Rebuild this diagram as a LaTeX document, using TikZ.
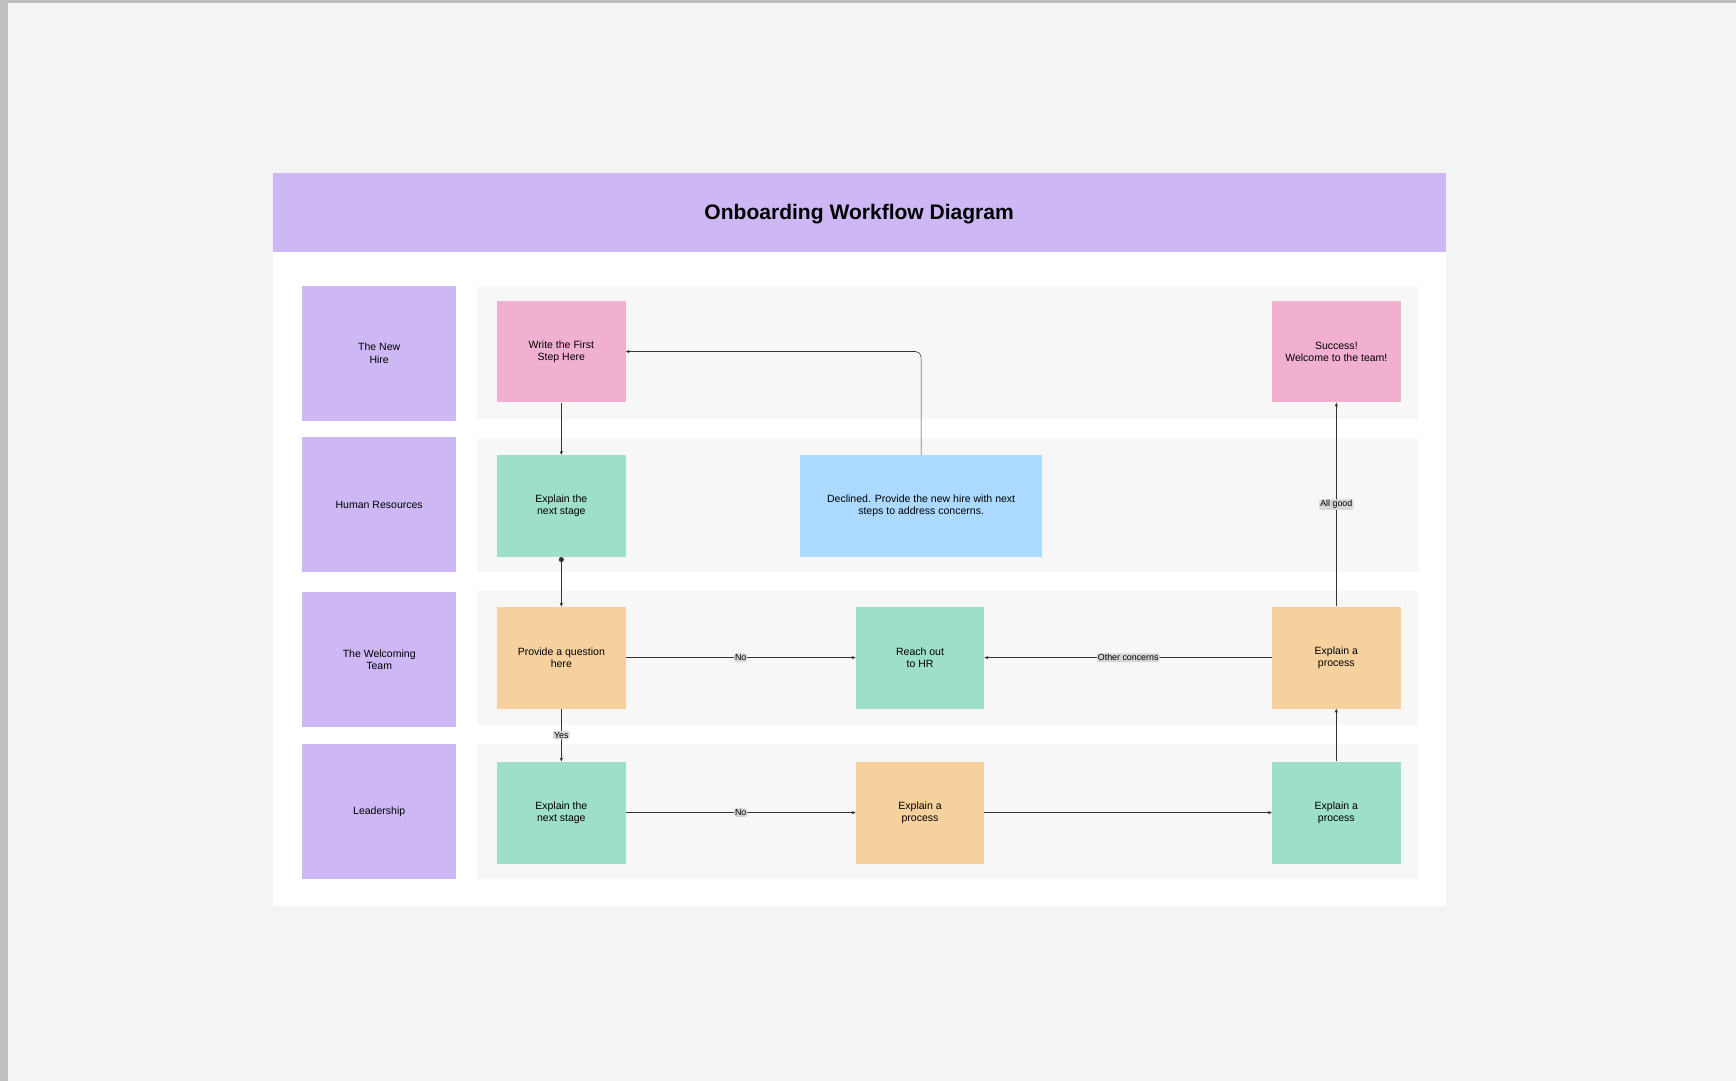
\documentclass[tikz,border=0pt]{standalone}
\usepackage{fontspec}
\setmainfont{Liberation Sans}
\usetikzlibrary{arrows.meta,positioning}
\definecolor{bgpage}{HTML}{F4F4F4}
\definecolor{lanebg}{HTML}{F7F7F7}
\definecolor{lilac}{HTML}{CDB8F5}
\definecolor{pinkbox}{HTML}{F2B0D0}
\definecolor{greenbox}{HTML}{9DDFC8}
\definecolor{bluebox}{HTML}{ABD9FF}
\definecolor{orangebox}{HTML}{F6D19E}
\definecolor{tagbg}{HTML}{D6D6D6}

\begin{document}
\begin{tikzpicture}[x=1pt, y=-1pt,
  card/.style={minimum width=116pt, minimum height=92pt, inner sep=2pt,
    align=center, font=\fontsize{9.5}{11}\selectfont},
  pinkcard/.style={card, fill=pinkbox},
  greencard/.style={card, fill=greenbox},
  orangecard/.style={card, fill=orangebox},
  lanelabel/.style={fill=lilac, minimum width=139pt, minimum height=122pt,
    align=center, font=\fontsize{9.5}{11}\selectfont},
  lane/.style={fill=lanebg},
  arr/.style={-{Stealth[length=3.5pt, width=3pt]}, line width=0.5pt, draw=black!80},
  tag/.style={fill=tagbg, rounded corners=2pt, inner sep=1pt,
    font=\fontsize{8}{9}\selectfont}
]
  % page and card
  \useasboundingbox (0,0) rectangle (1568,976);
  \fill[black!25] (0,0) rectangle (1568,976);
  \fill[bgpage] (7,3) rectangle (1568,976);
  \fill[white] (247,156) rectangle (1306,818);
  \fill[lilac] (247,156) rectangle (1306,228);
  \node[font=\bfseries\fontsize{19}{22}\selectfont] (title) at (776,193) {Onboarding Workflow Diagram};

  % lanes
  \fill[lane] (431,258) rectangle (1281,378);
  \fill[lane] (431,396) rectangle (1281,517);
  \fill[lane] (431,534) rectangle (1281,655);
  \fill[lane] (431,672) rectangle (1281,794);
  \node[lanelabel] (hire) at (342.5,319) {The New\\Hire};
  \node[lanelabel] (hr) at (342.5,456) {Human Resources};
  \node[lanelabel] (team) at (342.5,596) {The Welcoming\\Team};
  \node[lanelabel] (lead) at (342.5,733) {Leadership};

  % steps
  \node[pinkcard] (first) at (507,317.5) {Write the First\\Step Here};
  \node[pinkcard] (success) at (1207,317.5) {Success!\\Welcome to the team!};
  \node[greencard] (nextHR) at (507,457) {Explain the\\next stage};
  \node[card, fill=bluebox, minimum width=218pt] (declined) at (832,457)
    {Declined. Provide the new hire with next\\steps to address concerns.};
  \node[orangecard] (question) at (507,594) {Provide a question\\here};
  \node[greencard] (reach) at (831,594) {Reach out\\to HR};
  \node[orangecard] (procTeam) at (1207,594) {Explain a\\process};
  \node[greencard] (nextLead) at (507,734) {Explain the\\next stage};
  \node[orangecard] (procLead) at (831,734) {Explain a\\process};
  \node[greencard] (procEnd) at (1207,734) {Explain a\\process};

  % connectors
  \draw[arr] (first) -- (nextHR);
  \draw[arr, {Circle[length=4.5pt]}-{Stealth[length=3.5pt, width=3pt]}] (nextHR) -- (question);
  \draw[arr] (question) -- node[tag] {No} (reach);
  \draw[arr] (procTeam) -- node[tag] {Other concerns} (reach);
  \draw[arr] (question) -- node[tag] {Yes} (nextLead);
  \draw[arr] (nextLead) -- node[tag] {No} (procLead);
  \draw[arr] (procLead) -- (procEnd);
  \draw[arr] (procEnd) -- (procTeam);
  \draw[arr] (procTeam) -- node[tag] {All good} (success);
  \draw[arr, rounded corners=5pt] (declined.north) |- (first.east);
\end{tikzpicture}
\end{document}
